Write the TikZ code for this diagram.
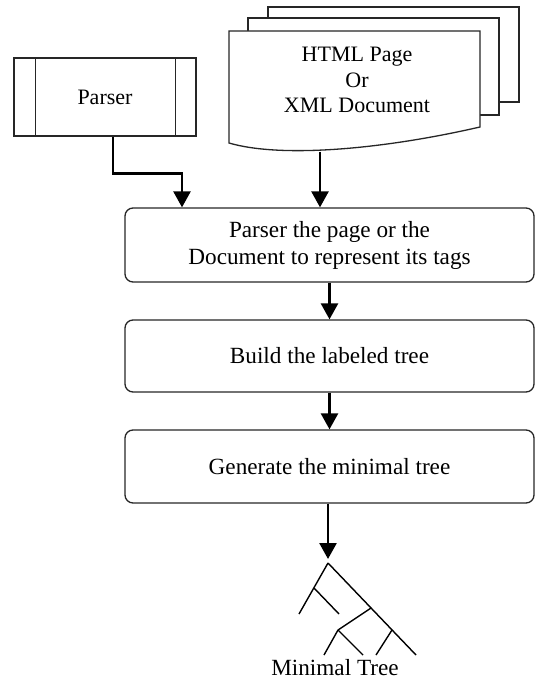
\documentclass[tikz,border=0pt]{standalone}
\usepackage{fontspec}
\setmainfont{Liberation Serif}
\usetikzlibrary{arrows.meta,calc}
\tikzset{
  txt/.style={font=\fontsize{22}{25.5}\selectfont, align=center},
  bigtxt/.style={font=\fontsize{23.2}{27}\selectfont, align=center},
  procbox/.style={draw=black!85, line width=1.3pt, rounded corners=8pt,
    minimum width=409pt, minimum height=74pt, bigtxt},
  pagebox/.style={draw=black!85, line width=1.3pt, fill=white},
  arr/.style={line width=2.6pt, -{Triangle[width=17pt,length=16pt]}},
  treeline/.style={line width=1.4pt}
}
\begin{document}
\begin{tikzpicture}[x=1pt,y=-1pt]
\useasboundingbox (0,0) rectangle (540,684);

% stacked pages behind the document
\draw[pagebox] (268,7) rectangle (519,102);
\draw[pagebox] (248,18) rectangle (499,115);
% front page with wavy bottom
\draw[pagebox] (229,31) -- (480,31) -- (480,127)
  .. controls (380,150) and (280,158) .. (229,143) -- cycle;
\node[txt] (doc) at (357,80) {HTML Page\\Or\\XML Document};
\coordinate (docbot) at (320,152);

% parser (predefined process)
\node[draw=black!85, line width=1.3pt, minimum width=182pt, minimum height=78pt, txt]
  (parser) at (105,97) {Parser};
\draw[line width=1.3pt, black!85] ($(parser.north west)+(22,0)$) -- ($(parser.south west)+(22,0)$);
\draw[line width=1.3pt, black!85] ($(parser.north east)+(-21,0)$) -- ($(parser.south east)+(-21,0)$);

% process steps
\node[procbox] (b1) at (329.5,245) {Parser the page or the\\Document to represent its tags};
\node[procbox, minimum height=72pt] (b2) at (329.5,356) {Build the labeled tree};
\node[procbox, minimum height=73pt] (b3) at (329.5,466.5) {Generate the minimal tree};

% connectors
\coordinate (pstart) at ($(parser.south)+(8,0)$);
\coordinate (pin) at ($(b1.north)+(-147.5,0)$);
\draw[arr] (pstart) -- ++(0,37) -| (pin);
\draw[arr] (docbot) -- (docbot |- b1.north);
\draw[arr] (b1) -- (b2);
\draw[arr] (b2) -- (b3);

% minimal tree
\coordinate (root) at (328,563);
\draw[arr, shorten >=4pt] (b3.south -| root) -- (root);
\draw[treeline] (root) -- (299,614);
\draw[treeline] (314,588) -- (339,614);
\draw[treeline] (root) -- (416,655);
\draw[treeline] (371,608) -- (338,630);
\draw[treeline] (338,630) -- (324,655);
\draw[treeline] (338,630) -- (363,655);
\draw[treeline] (392,630) -- (376,655);
\node[bigtxt] (treelabel) at (335,668) {Minimal Tree};
\end{tikzpicture}
\end{document}
